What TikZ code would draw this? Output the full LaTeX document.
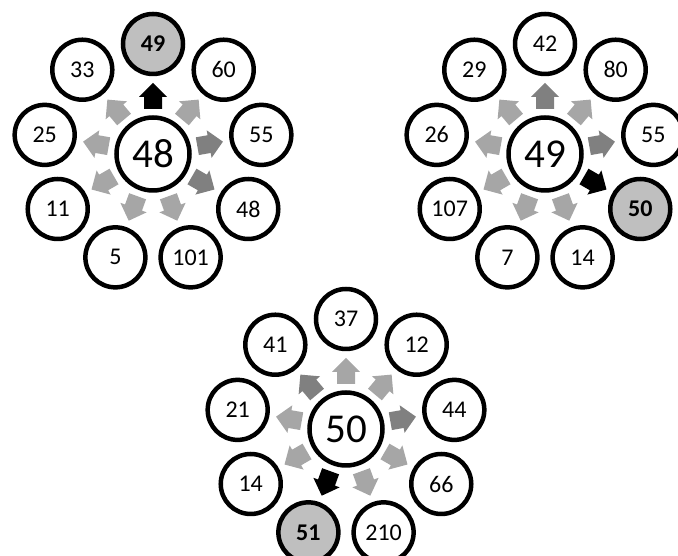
\documentclass[tikz,border=0pt]{standalone}
\usepackage{fontspec}
\setmainfont{Carlito}
\definecolor{paleshade}{HTML}{A6A6A6}
\definecolor{deepshade}{HTML}{808080}
\definecolor{pickfill}{HTML}{BFBFBF}
\tikzset{
  hub/.style={circle, draw, line width=4.5pt, minimum size=73pt, inner sep=0pt,
    font=\fontsize{41}{41}\selectfont},
  leaf/.style={circle, draw, line width=4.5pt, minimum size=60pt, inner sep=0pt,
    fill=white, font=\fontsize{24}{24}\selectfont},
  chosen/.style={fill=pickfill, font=\fontsize{24}{24}\selectfont\bfseries},
  plainleaf/.style={},
}
% block arrow pointing outward from a hub: #1 hub, #2 angle, #3 colour
\newcommand\blockarrow[3]{%
  \fill[#3, shift={(#1)}, rotate=#2]
    (45,-9) -- (57,-9) -- (57,-14) -- (71,0) -- (57,14) -- (57,9) -- (45,9) -- cycle;}
\begin{document}
\begin{tikzpicture}[x=1pt,y=1pt]
\useasboundingbox (0,0) rectangle (678,556);

% first wheel: 48
\node[hub] (h1) at (153,402) {48};
\foreach \ang/\txt/\lsty/\acol [count=\i] in
  {90/49/chosen/black, 130/33/plainleaf/paleshade, 170/25/plainleaf/paleshade,
   210/11/plainleaf/paleshade, 250/5/plainleaf/paleshade, 290/101/plainleaf/paleshade,
   330/48/plainleaf/deepshade, 10/55/plainleaf/deepshade, 50/60/plainleaf/paleshade}
{
  \node[leaf, \lsty] (p1-\i) at ([shift={(\ang:110)}]h1) {\txt};
  \blockarrow{h1}{\ang}{\acol}
}

% second wheel: 49
\node[hub] (h2) at (545,402) {49};
\foreach \ang/\txt/\lsty/\acol [count=\i] in
  {90/42/plainleaf/deepshade, 130/29/plainleaf/paleshade, 170/26/plainleaf/paleshade,
   210/107/plainleaf/paleshade, 250/7/plainleaf/paleshade, 290/14/plainleaf/paleshade,
   330/50/chosen/black, 10/55/plainleaf/deepshade, 50/80/plainleaf/paleshade}
{
  \node[leaf, \lsty] (p2-\i) at ([shift={(\ang:110)}]h2) {\txt};
  \blockarrow{h2}{\ang}{\acol}
}

% third wheel: 50
\node[hub] (h3) at (346,127) {50};
\foreach \ang/\txt/\lsty/\acol [count=\i] in
  {90/37/plainleaf/paleshade, 130/41/plainleaf/deepshade, 170/21/plainleaf/paleshade,
   210/14/plainleaf/paleshade, 250/51/chosen/black, 290/210/plainleaf/paleshade,
   330/66/plainleaf/paleshade, 10/44/plainleaf/deepshade, 50/12/plainleaf/paleshade}
{
  \node[leaf, \lsty] (p3-\i) at ([shift={(\ang:110)}]h3) {\txt};
  \blockarrow{h3}{\ang}{\acol}
}
\end{tikzpicture}
\end{document}
